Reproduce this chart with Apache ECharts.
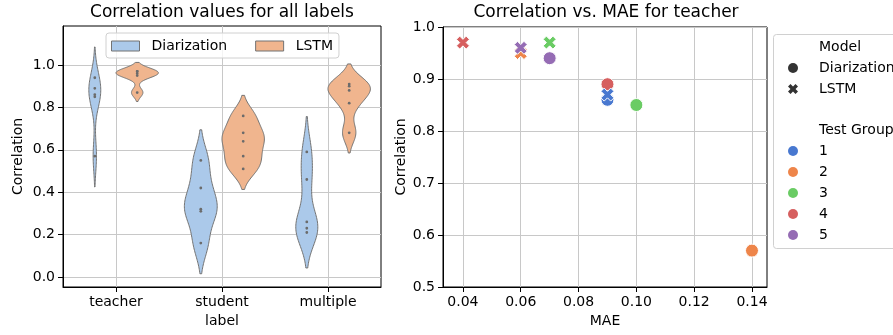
<!DOCTYPE html>
<html>
<head>
<meta charset="utf-8">
<script src="https://cdn.jsdelivr.net/npm/echarts@6/dist/echarts.min.js"></script>
<style>
html, body { margin: 0; padding: 0; background: #fff; }
#main { width: 893px; height: 335px; }
</style>
</head>
<body>
<div id="main"></div>
<script>
// data
var labels = ['teacher', 'student', 'multiple']
var testGroups = [1, 2, 3, 4, 5]
// teacher: correlation and MAE per test group
var diarizationMae = [0.09, 0.14, 0.10, 0.09, 0.07]
var diarizationTeacher = [0.86, 0.57, 0.85, 0.89, 0.94]
var lstmMae = [0.09, 0.06, 0.07, 0.04, 0.06]
var lstmTeacher = [0.87, 0.95, 0.97, 0.97, 0.96]
var diarizationStudent = [0.55, 0.42, 0.32, 0.31, 0.16]
var lstmStudent = [0.76, 0.68, 0.64, 0.57, 0.51]
var diarizationMultiple = [0.59, 0.46, 0.26, 0.23, 0.21]
var lstmMultiple = [0.91, 0.90, 0.88, 0.82, 0.68]
var leftYTicks = [0, 0.2, 0.4, 0.6, 0.8, 1.0]
var leftXTicks = [0, 1, 2]
var rightXTicks = [0.04, 0.06, 0.08, 0.10, 0.12, 0.14]
var rightYTicks = [0.5, 0.6, 0.7, 0.8, 0.9, 1.0]

var groupColors = ['#4878d0', '#ee854a', '#6acc64', '#d65f5f', '#956cb4']
var violinColors = ['#abc9ea', '#f0b58e']
var edgeGray = '#737373'
var gridGray = '#c8c8c8'
var FONT = '"DejaVu Sans", sans-serif'
var X_PATH = 'path://M1 0L2 1L3 0L4 1L3 2L4 3L3 4L2 3L1 4L0 3L1 2L0 1Z'

var byHue = [
  [diarizationTeacher, diarizationStudent, diarizationMultiple],
  [lstmTeacher, lstmStudent, lstmMultiple]
]

// gaussian kde, cut = 2 bandwidths past the data
function kde(vals) {
  var n = vals.length
  var mean = 0
  for (var i = 0; i < n; i++) mean += vals[i]
  mean /= n
  var ss = 0
  for (i = 0; i < n; i++) ss += (vals[i] - mean) * (vals[i] - mean)
  var bw = 0.5 * Math.sqrt(ss / (n - 1))
  var lo = Math.min.apply(null, vals) - 2 * bw
  var hi = Math.max.apply(null, vals) + 2 * bw
  var out = []
  for (var k = 0; k < 100; k++) {
    var y = lo + (hi - lo) * k / 99
    var d = 0
    for (i = 0; i < n; i++) {
      var z = (y - vals[i]) / bw
      d += Math.exp(-0.5 * z * z)
    }
    out.push([y, d / (n * bw * Math.sqrt(2 * Math.PI))])
  }
  return out
}

// violins[cat][hue] = [[y, relWidth], ...], scaled per category
var violins = []
for (var c = 0; c < labels.length; c++) {
  var pair = [kde(byHue[0][c]), kde(byHue[1][c])]
  var peak = 0
  pair.forEach(function(s) { s.forEach(function(p) { peak = Math.max(peak, p[1]) }) })
  violins.push(pair.map(function(s) {
    return s.map(function(p) { return [p[0], p[1] / peak] })
  }))
}

function violinRender(hue) {
  return function(params, api) {
    var cat = api.value(0)
    var shape = violins[cat][hue]
    var center = cat + (hue === 0 ? -0.2 : 0.2)
    var pts = []
    var i
    for (i = 0; i < shape.length; i++) pts.push(api.coord([center + 0.2 * shape[i][1], shape[i][0]]))
    for (i = shape.length - 1; i >= 0; i--) pts.push(api.coord([center - 0.2 * shape[i][1], shape[i][0]]))
    var children = [{
      type: 'polygon',
      shape: { points: pts },
      style: { fill: violinColors[hue], stroke: edgeGray, lineWidth: 1 }
    }]
    byHue[hue][cat].forEach(function(v) {
      var p = api.coord([center, v])
      children.push({
        type: 'circle',
        shape: { cx: p[0], cy: p[1], r: 1.4 },
        style: { fill: '#6b6b6b' }
      })
    })
    return { type: 'group', children: children }
  }
}

var axisText = { color: '#000', fontSize: 14, fontFamily: FONT }

function axisBase(ticks, fmt, name, gap) {
  return {
    type: 'value',
    name: name, nameLocation: 'middle', nameGap: gap, nameTextStyle: axisText,
    axisLine: { show: true, onZero: false, lineStyle: { color: '#000', width: 1 } },
    axisTick: { show: true, length: 5, customValues: ticks, lineStyle: { color: '#000' } },
    axisLabel: { customValues: ticks, margin: 8, color: '#000', fontSize: 14, fontFamily: FONT, formatter: fmt },
    splitLine: { show: true, lineStyle: { color: gridGray, width: 1 } }
  }
}

var xLeft = axisBase(leftXTicks, function(v) { return labels[Math.round(v)] }, 'label', 25)
xLeft.gridIndex = 0; xLeft.min = -0.5; xLeft.max = 2.5
var xRight = axisBase(rightXTicks, function(v) { return v.toFixed(2) }, 'MAE', 27)
xRight.gridIndex = 1; xRight.min = 0.0331; xRight.max = 0.1452
var yLeft = axisBase(leftYTicks, function(v) { return v.toFixed(1) }, 'Correlation', 38)
yLeft.gridIndex = 0; yLeft.min = -0.047; yLeft.max = 1.184
var yRight = axisBase(rightYTicks, function(v) { return v.toFixed(1) }, 'Correlation', 34)
yRight.gridIndex = 1; yRight.min = 0.5; yRight.max = 1.0

var chart = echarts.init(document.getElementById('main'))
chart.setOption({
  animation: false,
  backgroundColor: '#fff',
  textStyle: { fontFamily: FONT },
  title: [
    { text: 'Correlation values for all labels', left: 222, top: 4, padding: 0, textAlign: 'center',
      textStyle: { fontSize: 17, fontWeight: 'normal', color: '#000', fontFamily: FONT } },
    { text: 'Correlation vs. MAE for teacher', left: 606, top: 4, padding: 0, textAlign: 'center',
      textStyle: { fontSize: 17, fontWeight: 'normal', color: '#000', fontFamily: FONT } }
  ],
  grid: [
    { left: 63, top: 26, width: 318, height: 261, show: true, borderColor: '#000', borderWidth: 1 },
    { left: 443, top: 27, width: 324, height: 260, show: true, borderColor: '#000', borderWidth: 1 }
  ],
  graphic: [{
    type: 'rect', left: 773, top: 34, z: 90,
    shape: { width: 140, height: 214, r: 3 },
    style: { fill: 'rgba(255,255,255,0.8)', stroke: '#d0d0d0', lineWidth: 1 }
  }],
  legend: [
    {
      left: 106, top: 33, orient: 'horizontal', selectedMode: false,
      padding: [6, 6, 5, 5], itemGap: 28, itemWidth: 28, itemHeight: 10,
      borderColor: '#d0d0d0', borderWidth: 1, borderRadius: 3,
      backgroundColor: 'rgba(255,255,255,0.8)',
      textStyle: { fontSize: 14, color: '#000', fontFamily: FONT, padding: [0, 0, 0, 7] },
      data: [
        { name: 'Diarization', icon: 'rect', itemStyle: { color: violinColors[0], borderColor: edgeGray, borderWidth: 1, opacity: 1 } },
        { name: 'LSTM', icon: 'rect', itemStyle: { color: violinColors[1], borderColor: edgeGray, borderWidth: 1, opacity: 1 } }
      ]
    },
    {
      left: 780, top: 39, orient: 'vertical', selectedMode: false, z: 100,
      padding: 0, itemGap: 5, itemWidth: 26, itemHeight: 10,
      textStyle: { fontSize: 14, lineHeight: 16, color: '#000', fontFamily: FONT, padding: [0, 0, 0, 8] },
      data: [
        { name: 'Model', icon: 'none' },
        { name: 'Diarization', icon: 'circle', itemStyle: { color: '#333', borderWidth: 0, opacity: 1 } },
        { name: 'LSTM', icon: X_PATH, itemStyle: { color: '#333', borderWidth: 0, opacity: 1 } }
      ]
    },
    {
      left: 780, top: 122, orient: 'vertical', selectedMode: false, z: 100,
      padding: 0, itemGap: 5, itemWidth: 26, itemHeight: 10,
      textStyle: { fontSize: 14, lineHeight: 16, color: '#000', fontFamily: FONT, padding: [0, 0, 0, 8] },
      data: [{ name: 'Test Group', icon: 'none' }].concat(testGroups.map(function(g, i) {
        return { name: String(g), icon: 'circle', itemStyle: { color: groupColors[i], borderWidth: 0, opacity: 1 } }
      }))
    }
  ],
  xAxis: [xLeft, xRight],
  yAxis: [yLeft, yRight],
  series: [
    {
      name: 'Diarization', type: 'custom', xAxisIndex: 0, yAxisIndex: 0,
      renderItem: violinRender(0), encode: { x: 0, y: 1 },
      data: labels.map(function(l, i) { return [i, byHue[0][i][0]] })
    },
    {
      name: 'LSTM', type: 'custom', xAxisIndex: 0, yAxisIndex: 0,
      renderItem: violinRender(1), encode: { x: 0, y: 1 },
      data: labels.map(function(l, i) { return [i, byHue[1][i][0]] })
    },
    {
      name: 'Diarization', type: 'scatter', xAxisIndex: 1, yAxisIndex: 1,
      symbol: 'circle', symbolSize: 13,
      itemStyle: { opacity: 1, borderColor: '#fff', borderWidth: 1,
        color: function(p) { return groupColors[p.data[2] - 1] } },
      data: testGroups.map(function(g, i) { return [diarizationMae[i], diarizationTeacher[i], g] })
    },
    {
      name: 'LSTM', type: 'scatter', xAxisIndex: 1, yAxisIndex: 1,
      symbol: X_PATH, symbolSize: 13,
      itemStyle: { opacity: 1, borderColor: '#fff', borderWidth: 1,
        color: function(p) { return groupColors[p.data[2] - 1] } },
      data: testGroups.map(function(g, i) { return [lstmMae[i], lstmTeacher[i], g] })
    },
    // header / colour entries for the right legend
    { name: 'Model', type: 'scatter', xAxisIndex: 1, yAxisIndex: 1, data: [] },
    { name: 'Test Group', type: 'scatter', xAxisIndex: 1, yAxisIndex: 1, data: [] }
  ].concat(testGroups.map(function(g) {
    return { name: String(g), type: 'scatter', xAxisIndex: 1, yAxisIndex: 1, data: [] }
  }))
})
</script>
</body>
</html>
